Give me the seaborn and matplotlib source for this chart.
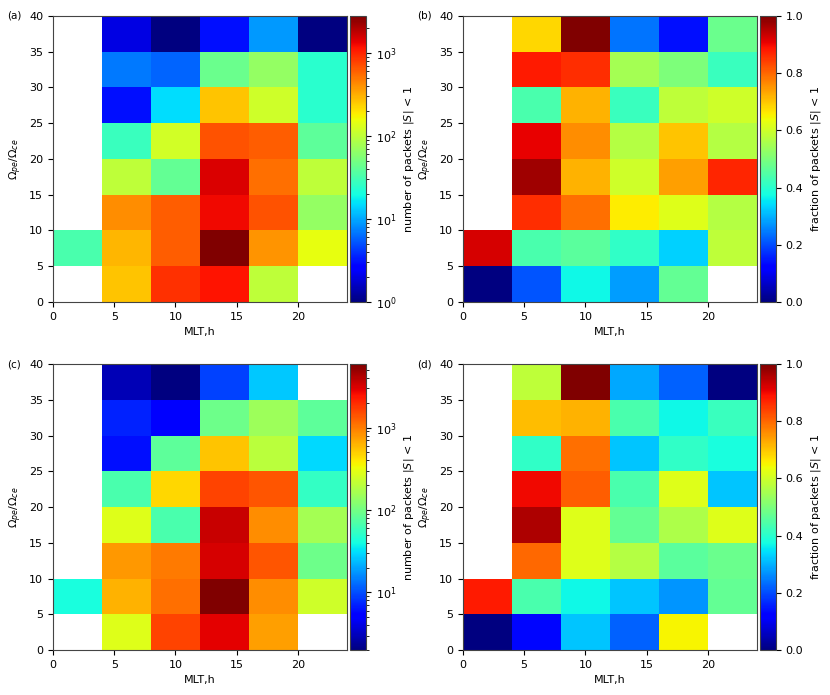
import numpy as np
import pandas as pd
import matplotlib
matplotlib.use("Agg")
import matplotlib.pyplot as plt
import seaborn as sns
from matplotlib.colors import LogNorm, Normalize

# bins: MLT 0-24 h in 4 h steps, Ope/Oce 0-40 in steps of 5
mlt_bins = ["0-4", "4-8", "8-12", "12-16", "16-20", "20-24"]
ratio_bins = ["35-40", "30-35", "25-30", "20-25", "15-20", "10-15", "5-10", "0-5"]  # top to bottom
x_ticks = [0, 5, 10, 15, 20]
y_ticks = [0, 5, 10, 15, 20, 25, 30, 35, 40]
nan = np.nan

# (a) number of packets |S| < 1
count_a = [
    [nan, 2, 1, 3, 9, 1],
    [nan, 7, 6, 45, 67, 24],
    [nan, 3, 15, 260, 118, 24],
    [nan, 28, 120, 680, 620, 39],
    [nan, 100, 42, 1500, 530, 100],
    [nan, 420, 620, 1270, 680, 67],
    [33, 300, 620, 2800, 390, 150],
    [nan, 260, 900, 1150, 100, nan],
]
# (b) fraction of packets |S| < 1
frac_b = [
    [nan, 0.68, 1.00, 0.24, 0.14, 0.48],
    [nan, 0.88, 0.86, 0.55, 0.50, 0.42],
    [nan, 0.44, 0.72, 0.42, 0.58, 0.60],
    [nan, 0.91, 0.76, 0.57, 0.70, 0.57],
    [nan, 0.97, 0.72, 0.60, 0.74, 0.87],
    [nan, 0.86, 0.79, 0.66, 0.62, 0.57],
    [0.925, 0.44, 0.46, 0.41, 0.33, 0.58],
    [0.00, 0.21, 0.37, 0.28, 0.47, nan],
]
# (c) number of packets |S| < 1
count_c = [
    [nan, 3, 2, 9, 26, nan],
    [nan, 7, 5, 93, 150, 80],
    [nan, 6, 80, 540, 200, 30],
    [nan, 68, 460, 1630, 1400, 53],
    [nan, 280, 68, 3550, 870, 160],
    [nan, 800, 1000, 3200, 1400, 93],
    [42, 630, 1100, 5900, 870, 240],
    [nan, 280, 1630, 2900, 740, nan],
]
# (d) fraction of packets |S| < 1
frac_d = [
    [nan, 0.58, 1.00, 0.29, 0.22, 0.00],
    [nan, 0.71, 0.72, 0.44, 0.37, 0.42],
    [nan, 0.41, 0.79, 0.32, 0.41, 0.38],
    [nan, 0.90, 0.81, 0.44, 0.62, 0.32],
    [nan, 0.96, 0.62, 0.47, 0.56, 0.62],
    [nan, 0.80, 0.62, 0.57, 0.46, 0.48],
    [0.88, 0.44, 0.37, 0.32, 0.27, 0.47],
    [0.00, 0.13, 0.32, 0.22, 0.65, nan],
]

plt.rcParams.update({"font.size": 8, "font.family": "DejaVu Sans"})

fig = plt.figure(figsize=(8.3, 6.95), dpi=100)

panels = [
    ("(a)", count_a, "log", "number of packets $|S|$ < 1", 0.0639, 0.5655),
    ("(b)", frac_b, "lin", "fraction of packets $|S|$ < 1", 0.5578, 0.5655),
    ("(c)", count_c, "log", "number of packets $|S|$ < 1", 0.0639, 0.0647),
    ("(d)", frac_d, "lin", "fraction of packets $|S|$ < 1", 0.5578, 0.0647),
]

for tag, vals, scale, clabel, left, bottom in panels:
    ax = fig.add_axes([left, bottom, 0.354, 0.4115])
    cax = fig.add_axes([left + 0.3578, bottom, 0.0193, 0.4115])
    df = pd.DataFrame(vals, index=ratio_bins, columns=mlt_bins)
    if scale == "log":
        arr = df.to_numpy()
        norm = LogNorm(vmin=np.nanmin(arr), vmax=np.nanmax(arr))
    else:
        norm = Normalize(vmin=0, vmax=1)
    sns.heatmap(df, ax=ax, cmap="jet", norm=norm, cbar_ax=cax,
                xticklabels=False, yticklabels=False)

    # heatmap works in cell index units; map the physical ticks onto them
    ax.set_xticks([v / 4 for v in x_ticks])
    ax.set_xticklabels([str(v) for v in x_ticks])
    ax.set_yticks([(40 - v) / 5 for v in y_ticks])
    ax.set_yticklabels([str(v) for v in y_ticks], rotation=0)
    ax.tick_params(length=3.5, width=0.8, direction="out", labelsize=8)
    for sp in ax.spines.values():
        sp.set_visible(True)
        sp.set_color("#444444")
        sp.set_linewidth(0.8)
    ax.set_xlabel("MLT,h", fontsize=8)
    ax.set_ylabel(r"$\Omega_{pe}/\Omega_{ce}$", fontsize=8)

    cb = ax.collections[0].colorbar
    cb.outline.set_linewidth(0.8)
    cb.outline.set_edgecolor("#444444")
    if scale == "lin":
        cb.set_ticks([0.0, 0.2, 0.4, 0.6, 0.8, 1.0])
        cb.set_ticklabels(["0.0", "0.2", "0.4", "0.6", "0.8", "1.0"])
    cb.ax.tick_params(labelsize=8)
    cb.set_label(clabel, fontsize=8)

    fig.text(left - 0.055, bottom + 0.4115, tag, fontsize=7.5, va="center", ha="left")

plt.savefig("out.png", dpi=100)
